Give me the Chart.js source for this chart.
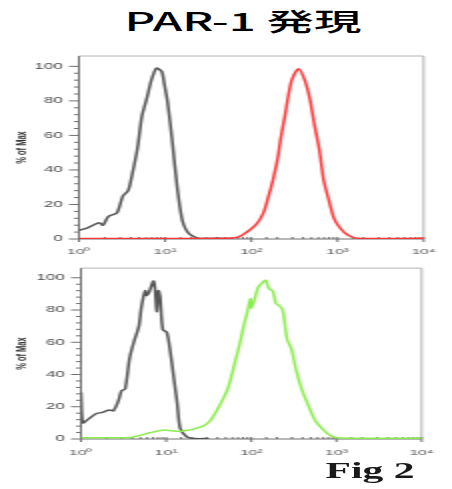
<!DOCTYPE html>
<html><head><meta charset="utf-8">
<script src="https://cdn.jsdelivr.net/npm/chart.js@4/dist/chart.umd.min.js"></script>
<style>
html,body{margin:0;padding:0;background:#fff;}
body{width:452px;height:489px;position:relative;overflow:hidden;}
#title{position:absolute;left:243px;top:8px;transform:translateX(-50%) scaleX(1.9);font-family:"Noto Sans CJK JP";font-size:25px;font-weight:500;line-height:1;white-space:nowrap;color:#000;}
#fig{position:absolute;left:370px;top:460px;transform:translateX(-50%) scaleX(1.85);font-family:"Liberation Serif";font-weight:bold;font-size:22.5px;line-height:1;white-space:nowrap;color:#1a1a1a;}
canvas{position:absolute;left:0;transform-origin:0 0;transform:scaleX(2);}
#c1{top:40px;} #c2{top:255px;}
</style></head>
<body>
<div id="title">PAR-1 発現</div>
<canvas id="c1" width="226" height="225"></canvas>
<canvas id="c2" width="226" height="215"></canvas>
<div id="fig">Fig 2</div>
<script>
const xTickValues = [1, 10, 100, 1000, 10000];
const xTickLabels = ['10⁰', '10¹', '10²', '10³', '10⁴'];
const yTickLabels = ['0', '20', '40', '60', '80', '100'];
const yTitle = '% of Max';

// Top panel: control (gray) and PAR-1 (red)
const topGrayX = [1, 1.26, 1.71, 1.9, 2.19, 2.75, 3.24, 3.72, 4.17, 4.79, 5.37, 6.17, 6.92, 7.94, 9.12, 9.77, 10.7, 12.2, 13.8, 15.8, 18.6, 24, 40, 60];
const topGrayY = [5, 6.5, 9.4, 8, 13, 15, 25, 28, 38, 53, 71, 82, 92, 99, 97, 90, 79, 55, 30, 11, 3.5, 0.5, 0.4, 0.3];
const topRedX = [1, 10, 50, 66, 79, 112, 138, 158, 178, 204, 219, 245, 269, 295, 353, 417, 479, 537, 617, 692, 794, 912, 1072, 1318, 1698, 10000];
const topRedY = [0.3, 0.3, 0.4, 0.8, 2.3, 8, 15, 24.5, 34, 47.6, 58, 71, 83, 92, 98.6, 92, 81, 67, 51.5, 34, 22.5, 12, 6.4, 2.3, 0.5, 0.4];

// Bottom panel: control (gray) and PAR-1 (green)
const botGrayX = [1, 1.05, 1.2, 1.5, 1.78, 2.14, 2.4, 2.75, 3.0, 3.3, 3.72, 4.17, 4.79, 5.13, 5.69, 5.89, 6.3, 7.08, 7.41, 7.76, 8.13, 8.5, 9.12, 10.2, 11.2, 12.3, 13.5, 14.6, 17.4, 21.4, 31.6];
const botGrayY = [29, 10, 12, 15.7, 16.5, 18, 17.5, 23.6, 30, 31, 50, 60, 70, 82, 92, 89, 91, 98, 93, 79, 92, 88, 68, 66, 54, 38, 22, 6.7, 1.4, 0.3, 0.3];
const botGreenX = [1, 3.8, 6.46, 9.12, 15.1, 25.7, 33.1, 42.7, 53.7, 63.1, 72.4, 81.3, 89.1, 97.7, 100, 110, 120, 138, 148, 162, 178, 195, 209, 229, 240, 263, 295, 339, 398, 479, 562, 708, 871, 1122, 10000];
const botGreenY = [0.8, 1, 3.9, 5.5, 4.8, 7.5, 11.5, 21, 32, 46, 58, 70, 78, 87, 81, 87, 94, 97.5, 98.5, 93, 92, 84, 83, 81, 77, 62, 56, 42, 29.7, 19.6, 11.5, 5.5, 1.8, 0.6, 0.5];

const pts = (xs, ys) => xs.map((x, i) => ({x, y: ys[i]}));
const isPow10 = v => Math.abs(Math.log10(v) - Math.round(Math.log10(v))) < 1e-9;

const framePlugin = {
  id: 'frame',
  beforeDatasetsDraw(chart) {
    const {ctx, chartArea: a, scales: {x, y}} = chart;
    ctx.save();
    ctx.lineWidth = 1;
    ctx.strokeStyle = '#b4b4b4';
    ctx.beginPath(); ctx.moveTo(a.left, a.top); ctx.lineTo(a.right, a.top); ctx.lineTo(a.right, a.bottom); ctx.stroke();
    ctx.strokeStyle = '#707070';
    ctx.beginPath(); ctx.moveTo(a.left, a.top); ctx.lineTo(a.left, a.bottom); ctx.lineTo(a.right, a.bottom); ctx.stroke();
    y.ticks.forEach(t => {
      if (t.value % 4) return;
      const py = y.getPixelForValue(t.value);
      const major = t.value % 20 === 0;
      ctx.beginPath(); ctx.moveTo(a.left - (major ? 5 : 2.5), py); ctx.lineTo(a.left, py); ctx.stroke();
    });
    x.ticks.forEach(t => {
      const px = x.getPixelForValue(t.value);
      const major = isPow10(t.value);
      ctx.beginPath(); ctx.moveTo(px, a.bottom + (major ? 3 : 0)); ctx.lineTo(px, a.bottom - 2); ctx.stroke();
    });
    ctx.restore();
  }
};

function makeChart(id, datasets, opt) {
  return new Chart(document.getElementById(id), {
    type: 'scatter',
    data: { datasets },
    plugins: [framePlugin],
    options: {
      responsive: false,
      animation: false,
      events: [],
      layout: { padding: { top: opt.padTop, right: opt.padRight, left: 0, bottom: 0 } },
      plugins: { legend: { display: false }, tooltip: { enabled: false } },
      elements: { point: { radius: 0 }, line: { tension: 0.25 } },
      scales: {
        x: {
          type: 'logarithmic', min: 1, max: 10000,
          grid: { display: false, drawTicks: false },
          border: { display: false },
          afterFit: s => { s.height = opt.xHeight; },
          ticks: {
            autoSkip: false, maxRotation: 0, minRotation: 0, padding: opt.xPad,
            color: '#555', font: { family: 'Liberation Sans', size: 8 },
            callback: v => { const i = xTickValues.findIndex(t => Math.abs(t - v) < 1e-6 * t); return i >= 0 ? xTickLabels[i] : ''; }
          }
        },
        y: {
          type: 'linear', min: 0, max: 106,
          grid: { display: false, drawTicks: false },
          border: { display: false },
          afterFit: s => { s.width = opt.yWidth; },
          title: { display: true, text: yTitle, color: '#333', font: { family: 'Liberation Sans', size: 7.5, weight: 'bold' }, padding: { top: 6.5, bottom: 0 } },
          ticks: {
            stepSize: 4, autoSkip: false, padding: 8,
            color: '#4a4a4a', font: { family: 'Liberation Sans', size: 8.5 },
            callback: v => { const i = yTickLabels.indexOf(String(v)); return i >= 0 ? yTickLabels[i] : ''; }
          }
        }
      }
    }
  });
}

makeChart('c1', [
  { data: pts(topRedX, topRedY), showLine: true, borderColor: '#ff3535', borderWidth: 1.5 },
  { data: pts(topGrayX, topGrayY), showLine: true, borderColor: '#555555', borderWidth: 1.5 }
], { padTop: 16, padRight: 6, xHeight: 26, yWidth: 39.5, xPad: 8 });

makeChart('c2', [
  { data: pts(botGreenX, botGreenY), showLine: true, borderColor: '#8cec4e', borderWidth: 1.5 },
  { data: pts(botGrayX, botGrayY), showLine: true, borderColor: '#555555', borderWidth: 1.5 }
], { padTop: 10, padRight: 7, xHeight: 31, yWidth: 40.5, xPad: 9 });
</script>
</body></html>
